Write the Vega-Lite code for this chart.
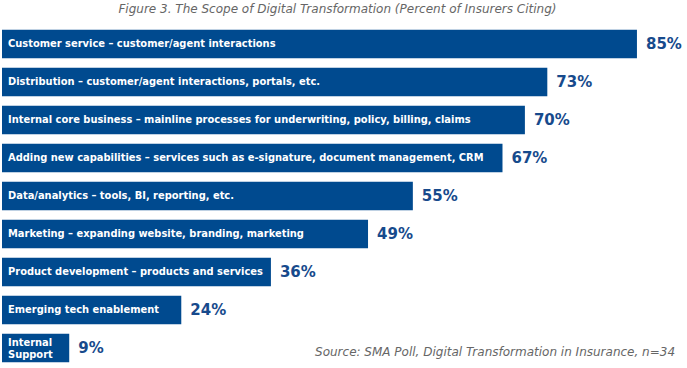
{
  "$schema": "https://vega.github.io/schema/vega-lite/v6.json",
  "autosize": "none",
  "width": 685,
  "height": 342,
  "padding": {"left": 2, "top": 25, "right": 0, "bottom": 1},
  "background": "white",
  "title": {
    "text": "Figure 3. The Scope of Digital Transformation (Percent of Insurers Citing)",
    "anchor": "middle",
    "frame": "group",
    "font": "DejaVu Sans",
    "fontSize": 12,
    "fontStyle": "italic",
    "fontWeight": "normal",
    "color": "#666666",
    "offset": 9,
    "dx": -7
  },
  "config": {"view": {"stroke": null}},
  "data": {
    "values": [
      {"category": "Customer service – customer/agent interactions", "value": 85, "pct": "85%"},
      {"category": "Distribution – customer/agent interactions, portals, etc.", "value": 73, "pct": "73%"},
      {"category": "Internal core business – mainline processes for underwriting, policy, billing, claims", "value": 70, "pct": "70%"},
      {"category": "Adding new capabilities – services such as e-signature, document management, CRM", "value": 67, "pct": "67%"},
      {"category": "Data/analytics – tools, BI, reporting, etc.", "value": 55, "pct": "55%"},
      {"category": "Marketing – expanding website, branding, marketing", "value": 49, "pct": "49%"},
      {"category": "Product development – products and services", "value": 36, "pct": "36%"},
      {"category": "Emerging tech enablement", "value": 24, "pct": "24%"},
      {"category": "Internal\nSupport", "value": 9, "pct": "9%"}
    ]
  },
  "encoding": {
    "y": {"field": "category", "type": "nominal", "sort": null,
          "scale": {"paddingInner": 0.25, "paddingOuter": 0.125}, "axis": null}
  },
  "layer": [
    {
      "mark": {"type": "bar", "color": "#004a8f"},
      "encoding": {
        "x": {"field": "value", "type": "quantitative", "scale": {"domain": [0, 91.7], "nice": false}, "axis": null}
      }
    },
    {
      "transform": [{"filter": "datum.value > 10"}],
      "mark": {"type": "text", "align": "left", "baseline": "middle", "dx": 6, "color": "white",
               "font": "DejaVu Sans Condensed", "fontWeight": "bold", "fontSize": 11},
      "encoding": {
        "x": {"datum": 0, "type": "quantitative"},
        "text": {"field": "category"}
      }
    },
    {
      "transform": [{"filter": "datum.value < 10"}],
      "mark": {"type": "text", "align": "left", "baseline": "middle", "dx": 6, "dy": -5, "color": "white",
               "font": "DejaVu Sans Condensed", "fontWeight": "bold", "fontSize": 11, "lineBreak": "\n", "lineHeight": 12},
      "encoding": {
        "x": {"datum": 0, "type": "quantitative"},
        "text": {"field": "category"}
      }
    },
    {
      "mark": {"type": "text", "align": "left", "baseline": "middle", "dx": 9, "color": "#174a8c",
               "font": "DejaVu Sans", "fontWeight": "bold", "fontSize": 15},
      "encoding": {
        "x": {"field": "value", "type": "quantitative"},
        "text": {"field": "pct"}
      }
    },
    {
      "transform": [{"filter": "datum.value < 10"}],
      "mark": {"type": "text", "align": "right", "baseline": "middle", "dy": 4, "color": "#666666",
               "font": "DejaVu Sans", "fontStyle": "italic", "fontSize": 12},
      "encoding": {
        "x": {"datum": 90.1, "type": "quantitative"},
        "text": {"value": "Source: SMA Poll, Digital Transformation in Insurance, n=34"}
      }
    }
  ]
}
